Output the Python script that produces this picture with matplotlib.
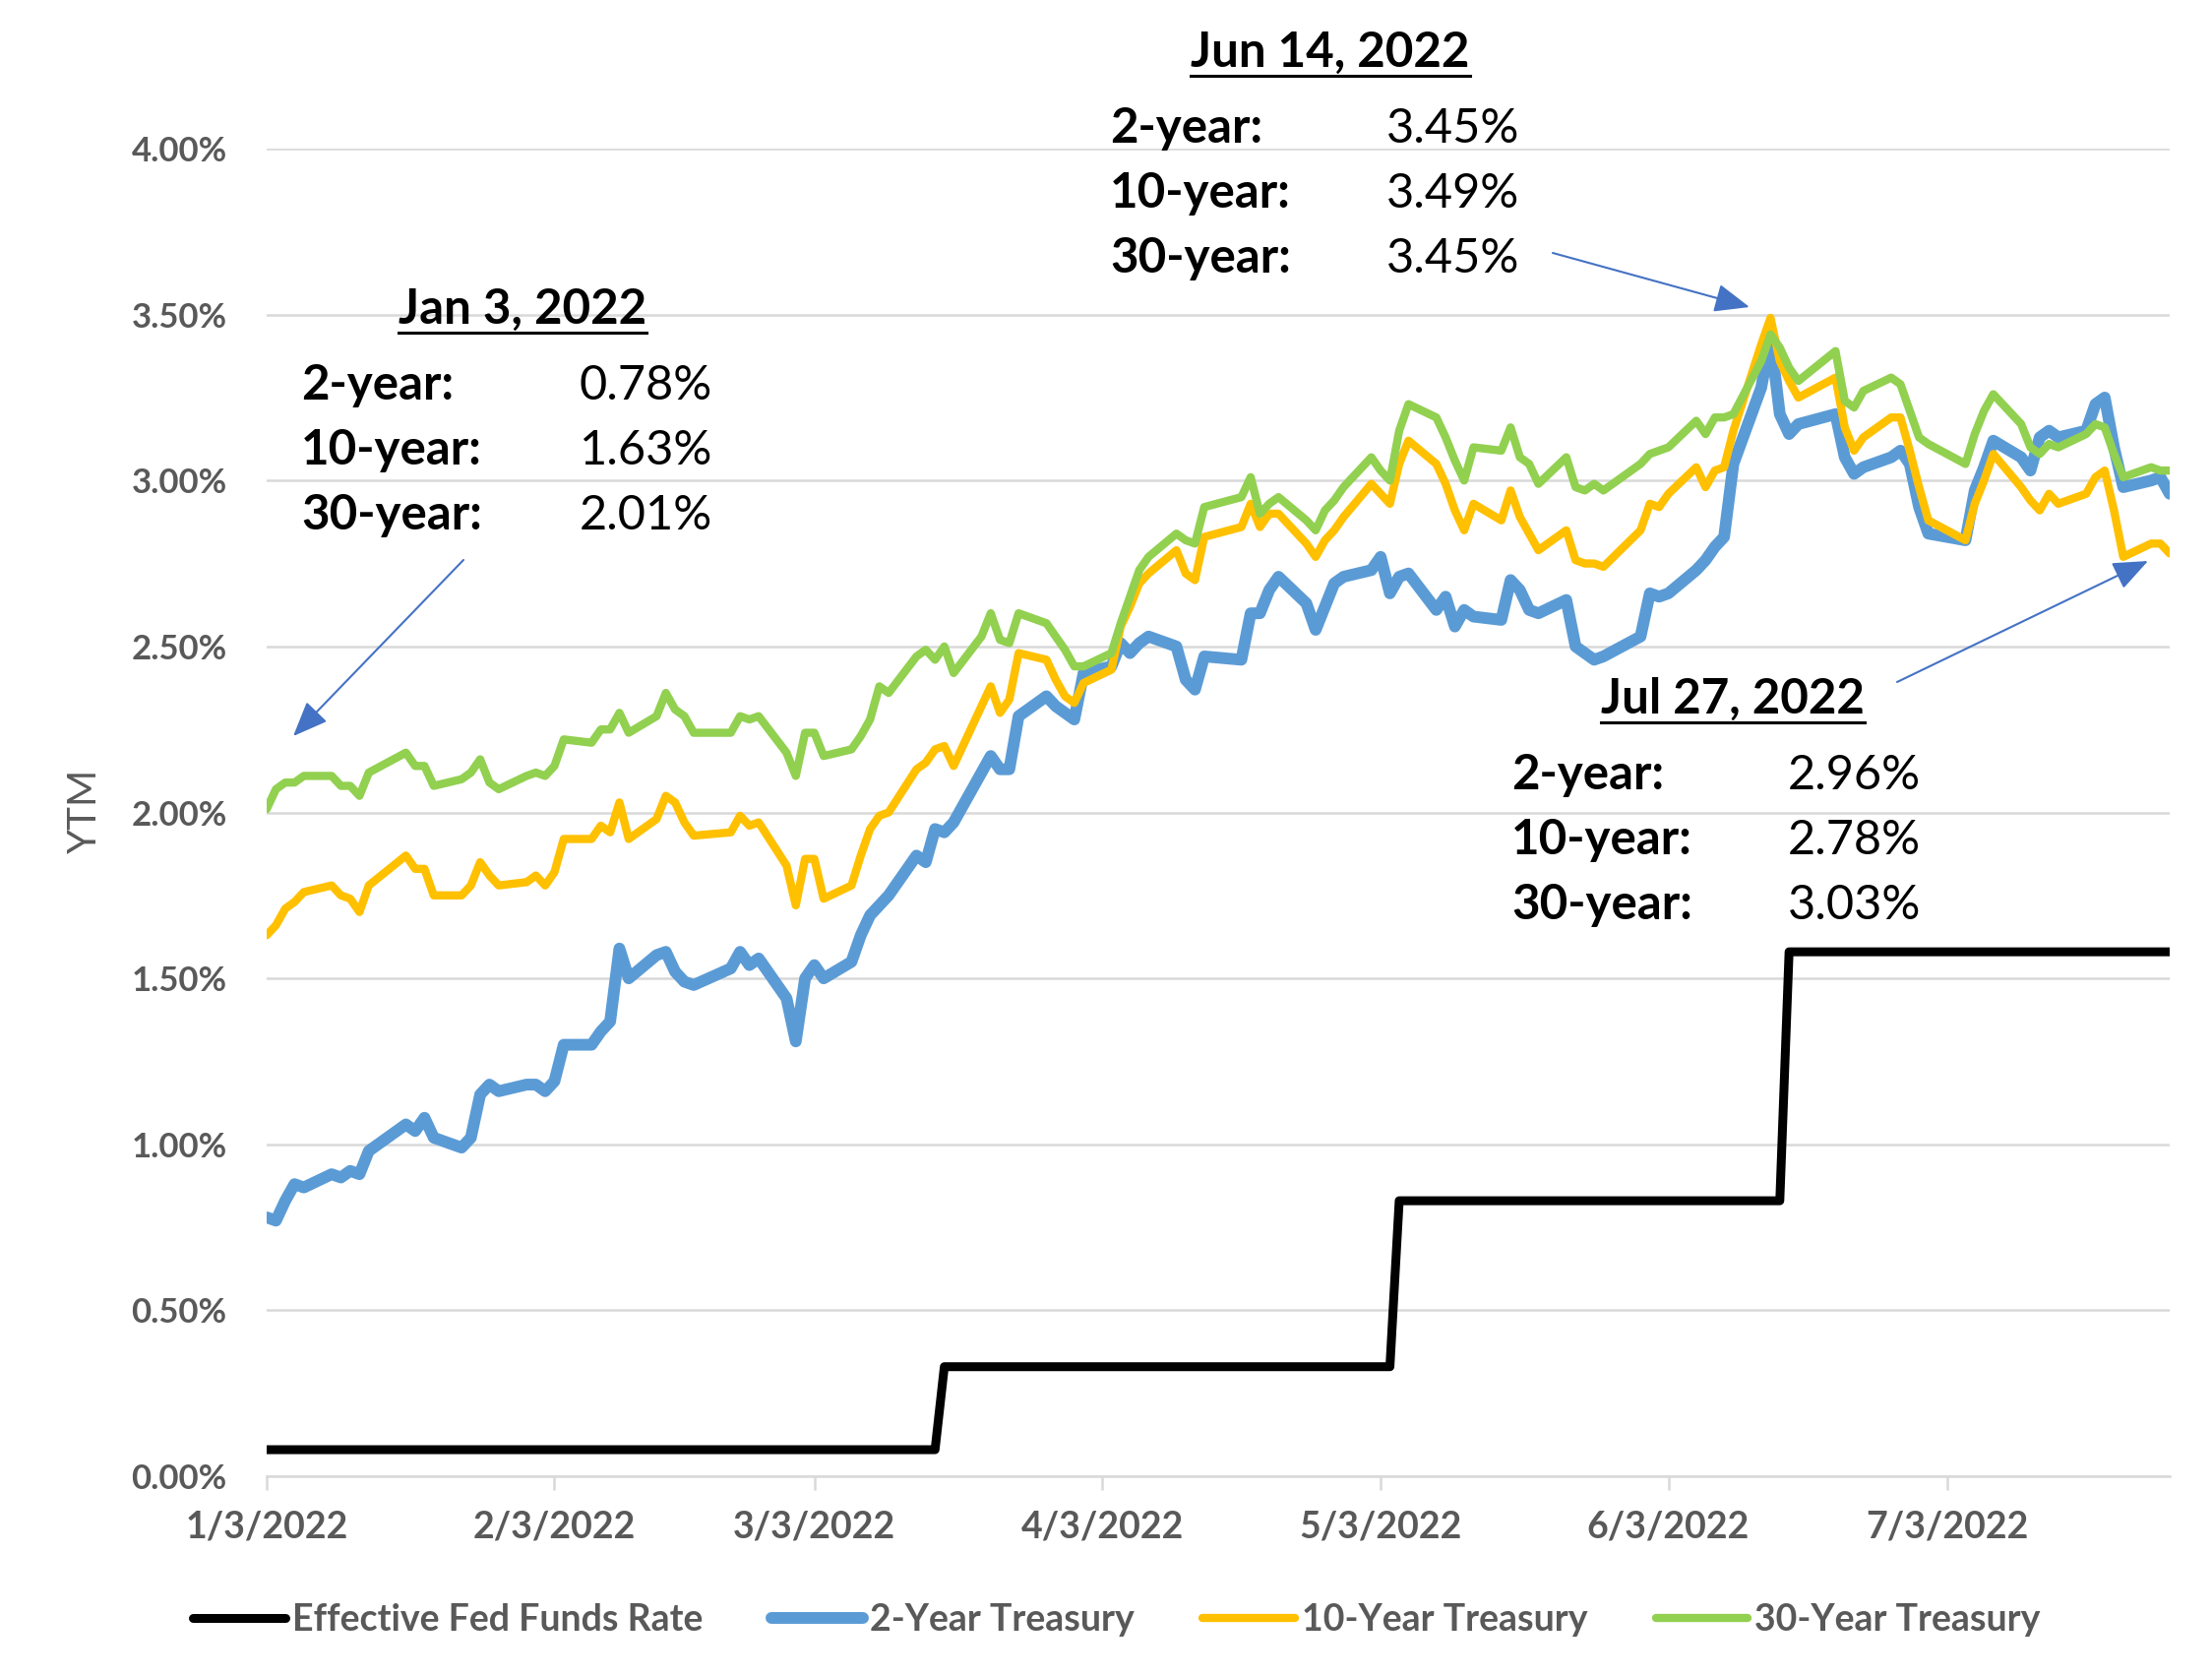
import numpy as np
import pandas as pd
import matplotlib
matplotlib.use("Agg")
import matplotlib.pyplot as plt
from matplotlib.patches import FancyArrowPatch
from matplotlib.lines import Line2D

plt.rcParams['font.family'] = ['Lato', 'DejaVu Sans']

# trading days shown, month by month (2022)
jan_days = [3, 4, 5, 6, 7, 10, 11, 12, 13, 14, 18, 19, 20, 21, 24, 25, 26, 27, 28, 31]
feb_days = [1, 2, 3, 4, 7, 8, 9, 10, 11, 14, 15, 16, 17, 18, 22, 23, 24, 25, 28]
mar_days = [1, 2, 3, 4, 7, 8, 9, 10, 11, 14, 15, 16, 17, 18, 21, 22, 23, 24, 25, 28, 29, 30, 31]
apr_days = [1, 4, 5, 6, 7, 8, 11, 12, 13, 14, 18, 19, 20, 21, 22, 25, 26, 27, 28, 29]
may_days = [2, 3, 4, 5, 6, 9, 10, 11, 12, 13, 16, 17, 18, 19, 20, 23, 24, 25, 26, 27, 31]
jun_days = [1, 2, 3, 6, 7, 8, 9, 10, 13, 14, 15, 16, 17, 21, 22, 23, 24, 27, 28, 29, 30]
jul_days = [1, 5, 6, 7, 8, 11, 12, 13, 14, 15, 18, 19, 20, 21, 22, 25, 26, 27]

# 2-year treasury yield (%)
y2 = [
    0.78, 0.77, 0.83, 0.88, 0.87, 0.91, 0.90, 0.92, 0.91, 0.98,
    1.06, 1.04, 1.08, 1.02, 0.99, 1.02, 1.15, 1.18, 1.16, 1.18,
    1.18, 1.16, 1.19, 1.30, 1.30, 1.34, 1.37, 1.59, 1.50, 1.57,
    1.58, 1.52, 1.49, 1.48, 1.53, 1.58, 1.54, 1.56, 1.44,
    1.31, 1.50, 1.54, 1.50, 1.55, 1.63, 1.69, 1.72, 1.75, 1.87,
    1.85, 1.95, 1.94, 1.97, 2.12, 2.17, 2.13, 2.13, 2.29, 2.35,
    2.32, 2.30, 2.28,
    2.42, 2.44, 2.51, 2.48, 2.51, 2.53, 2.50, 2.40, 2.37, 2.47,
    2.46, 2.60, 2.60, 2.67, 2.71, 2.63, 2.55, 2.62, 2.69, 2.71,
    2.73, 2.77, 2.66, 2.71, 2.72, 2.61, 2.65, 2.56, 2.61, 2.59,
    2.58, 2.70, 2.67, 2.61, 2.60, 2.64, 2.50, 2.48, 2.46, 2.47,
    2.53,
    2.66, 2.65, 2.66, 2.73, 2.76, 2.80, 2.83, 3.05, 3.28, 3.43,
    3.20, 3.14, 3.17, 3.20, 3.07, 3.02, 3.04, 3.07, 3.09, 3.05,
    2.92,
    2.84, 2.82, 2.97, 3.04, 3.12, 3.07, 3.03, 3.13, 3.15, 3.13,
    3.15, 3.23, 3.25, 3.10, 2.98, 3.00, 3.01, 2.96,
]

# 10-year treasury yield (%)
y10 = [
    1.63, 1.66, 1.71, 1.73, 1.76, 1.78, 1.75, 1.74, 1.70, 1.78,
    1.87, 1.83, 1.83, 1.75, 1.75, 1.78, 1.85, 1.81, 1.78, 1.79,
    1.81, 1.78, 1.82, 1.92, 1.92, 1.96, 1.94, 2.03, 1.92, 1.98,
    2.05, 2.03, 1.97, 1.93, 1.94, 1.99, 1.96, 1.97, 1.84,
    1.72, 1.86, 1.86, 1.74, 1.78, 1.87, 1.95, 1.99, 2.00, 2.13,
    2.15, 2.19, 2.20, 2.14, 2.32, 2.38, 2.30, 2.34, 2.48, 2.46,
    2.40, 2.35, 2.33,
    2.39, 2.43, 2.56, 2.62, 2.69, 2.72, 2.79, 2.72, 2.70, 2.83,
    2.86, 2.93, 2.86, 2.90, 2.90, 2.81, 2.77, 2.82, 2.85, 2.89,
    2.99, 2.96, 2.93, 3.05, 3.12, 3.05, 2.99, 2.91, 2.85, 2.93,
    2.88, 2.97, 2.89, 2.84, 2.79, 2.85, 2.76, 2.75, 2.75, 2.74,
    2.85,
    2.93, 2.92, 2.96, 3.04, 2.98, 3.03, 3.04, 3.15, 3.41, 3.49,
    3.36, 3.30, 3.25, 3.31, 3.16, 3.09, 3.13, 3.19, 3.19, 3.09,
    2.98,
    2.88, 2.82, 2.93, 3.00, 3.08, 2.98, 2.94, 2.91, 2.96, 2.93,
    2.96, 3.01, 3.03, 2.91, 2.77, 2.81, 2.81, 2.78,
]

# 30-year treasury yield (%)
y30 = [
    2.01, 2.07, 2.09, 2.09, 2.11, 2.11, 2.08, 2.08, 2.05, 2.12,
    2.18, 2.14, 2.14, 2.08, 2.10, 2.12, 2.16, 2.09, 2.07, 2.11,
    2.12, 2.11, 2.14, 2.22, 2.21, 2.25, 2.25, 2.30, 2.24, 2.29,
    2.36, 2.31, 2.29, 2.24, 2.24, 2.29, 2.28, 2.29, 2.18,
    2.11, 2.24, 2.24, 2.17, 2.19, 2.23, 2.28, 2.38, 2.36, 2.47,
    2.49, 2.46, 2.50, 2.42, 2.53, 2.60, 2.52, 2.51, 2.60, 2.57,
    2.53, 2.49, 2.44,
    2.44, 2.48, 2.57, 2.65, 2.73, 2.77, 2.84, 2.82, 2.81, 2.92,
    2.95, 3.01, 2.90, 2.93, 2.95, 2.88, 2.85, 2.91, 2.94, 2.98,
    3.07, 3.03, 3.00, 3.15, 3.23, 3.19, 3.13, 3.06, 3.00, 3.10,
    3.09, 3.16, 3.07, 3.05, 2.99, 3.07, 2.98, 2.97, 2.99, 2.97,
    3.05,
    3.08, 3.09, 3.10, 3.18, 3.14, 3.19, 3.19, 3.20, 3.36, 3.44,
    3.40, 3.34, 3.30, 3.39, 3.24, 3.22, 3.27, 3.31, 3.29, 3.21,
    3.13,
    3.11, 3.05, 3.14, 3.21, 3.26, 3.17, 3.10, 3.08, 3.11, 3.10,
    3.14, 3.17, 3.16, 3.08, 3.01, 3.04, 3.03, 3.03,
]

# effective fed funds rate: level and the first day it applies
ffr_start = ["2022-01-03", "2022-03-17", "2022-05-05", "2022-06-16"]
ffr_level = [0.08, 0.33, 0.83, 1.58]

tick_dates = ["2022-01-03", "2022-02-03", "2022-03-03", "2022-04-03",
              "2022-05-03", "2022-06-03", "2022-07-03"]
tick_labels = ["1/3/2022", "2/3/2022", "3/3/2022", "4/3/2022",
               "5/3/2022", "6/3/2022", "7/3/2022"]

series_names = ["Effective Fed Funds Rate", "2-Year Treasury",
                "10-Year Treasury", "30-Year Treasury"]
series_colors = ["#000000", "#5B9BD5", "#FFC000", "#92D050"]
series_widths = [6.5, 8.6, 6.0, 6.0]

# callouts
callout_titles = ["Jan 3, 2022", "Jun 14, 2022", "Jul 27, 2022"]
callout_values = [["0.78%", "1.63%", "2.01%"],
                  ["3.45%", "3.49%", "3.45%"],
                  ["2.96%", "2.78%", "3.03%"]]
row_names = ["2-year:", "10-year:", "30-year:"]

# ---- build date index ----
dates = []
for m, days in enumerate([jan_days, feb_days, mar_days, apr_days,
                          may_days, jun_days, jul_days], start=1):
    dates += [pd.Timestamp(2022, m, d) for d in days]
dates = pd.DatetimeIndex(dates)
assert len(dates) == len(y2) == len(y10) == len(y30)

idx = np.searchsorted(pd.to_datetime(ffr_start).values, dates.values, side='right') - 1
ffr = np.array(ffr_level)[idx]

W, H = 2248, 1704
fig = plt.figure(figsize=(W / 100, H / 100), dpi=100)


def fx(px):
    return px / W


def fy(py):
    return 1 - py / H


ax = fig.add_axes([fx(271), fy(1500), (2205 - 271) / W, (1500 - 151) / H])

for vals, c, lw in zip([ffr, y2, y10, y30], series_colors, series_widths):
    ax.plot(dates, vals, color=c, lw=lw, solid_capstyle='round',
            solid_joinstyle='round', zorder=3)

ax.set_xlim(pd.Timestamp("2022-01-03"), pd.Timestamp("2022-07-27"))
ax.set_ylim(0, 4)
yt = np.arange(0, 4.01, 0.5)
ax.set_yticks(yt)
ax.set_yticklabels([f"{v:.2f}%" for v in yt], fontsize=25, fontweight='bold',
                   color='#595959')
ax.set_xticks(pd.to_datetime(tick_dates))
ax.set_xticklabels(tick_labels, fontsize=27, fontweight='bold', color='#595959')

ax.tick_params(axis='y', length=0, pad=29)
ax.tick_params(axis='x', length=10, width=1.8, color='#D9D9D9', pad=15)
ax.yaxis.grid(True, color='#D9D9D9', lw=1.8)
ax.set_axisbelow(True)
for s in ['top', 'right', 'left']:
    ax.spines[s].set_visible(False)
ax.spines['bottom'].set_color('#D9D9D9')
ax.spines['bottom'].set_linewidth(1.8)

fig.text(fx(86), fy(824), "YTM", rotation=90, ha='center', va='center',
         fontsize=29, color='#595959')

# legend
handles = [Line2D([0], [0], color=c, lw=lw, solid_capstyle='round')
           for c, lw in zip(series_colors, series_widths)]
fig.legend(handles, series_names, loc='center', bbox_to_anchor=(fx(1135), fy(1646)),
           ncol=4, frameon=False, handlelength=2.5, handletextpad=0.18,
           columnspacing=1.85, prop={'weight': 'bold', 'size': 27},
           labelcolor='#595959')

# callouts: title centre x, title baseline, label x, value x
callout_pos = [(531, 329, 306, 589),
               (1352, 68, 1128, 1409),
               (1761, 725, 1536, 1817)]
title_texts = []
for (cx, tb, lx, vx), title, vals in zip(callout_pos, callout_titles, callout_values):
    t = fig.text(fx(cx), fy(tb), title, ha='center', va='baseline',
                 fontsize=35.5, fontweight='bold', color='black')
    title_texts.append((t, tb))
    for i, (name, v) in enumerate(zip(row_names, vals)):
        base = tb + 77 + i * 66
        fig.text(fx(lx), fy(base), name, ha='left', va='baseline',
                 fontsize=35.5, fontweight='bold', color='black')
        fig.text(fx(vx), fy(base), v, ha='left', va='baseline',
                 fontsize=35, color='black')

fig.canvas.draw()
renderer = fig.canvas.get_renderer()
for t, tb in title_texts:
    bb = t.get_window_extent(renderer)
    fig.add_artist(Line2D([bb.x0 / W, bb.x1 / W], [fy(tb + 9), fy(tb + 9)],
                          color='black', lw=2.2, transform=fig.transFigure))

# arrows (start, tip) in pixel coordinates
arrows = [((471, 569), (298, 748)),
          ((1578, 257), (1778, 312)),
          ((1928, 693), (2183, 570))]
for (x0, y0), (x1, y1) in arrows:
    fig.add_artist(FancyArrowPatch((fx(x0), fy(y0)), (fx(x1), fy(y1)),
                                   transform=fig.transFigure,
                                   arrowstyle='-|>,head_length=1.1,head_width=0.45',
                                   mutation_scale=20, lw=1.5, color='#4472C4',
                                   shrinkA=0, shrinkB=0))

fig.savefig("out.png", dpi=100)
